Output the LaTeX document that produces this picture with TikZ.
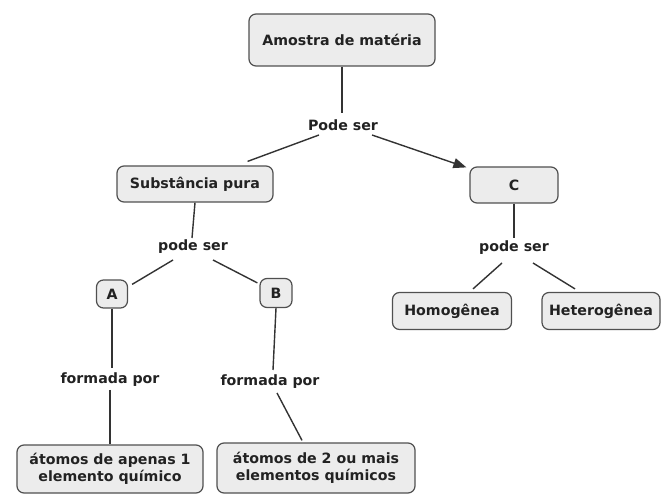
\documentclass[tikz,border=0pt]{standalone}
\usepackage{fontspec}
\setmainfont{DejaVu Sans}
\usetikzlibrary{calc,arrows.meta}
\definecolor{boxfill}{HTML}{ECECEC}
\definecolor{boxline}{HTML}{505050}
\definecolor{ink}{HTML}{222222}
\definecolor{wirec}{HTML}{333333}
\begin{document}
\begin{tikzpicture}[x=1pt,y=1pt,
  concept/.style={draw=boxline, line width=1.2pt, fill=boxfill, rounded corners=7pt,
    inner sep=0pt, align=center, text=ink, font=\fontsize{14.2}{17}\selectfont\bfseries},
  linklabel/.style={inner sep=0pt, text=ink, font=\fontsize{14.2}{17}\selectfont\bfseries},
  wire/.style={draw=wirec, line width=1.4pt}]
\useasboundingbox[fill=white] (0,0) rectangle (663,495);

% concepts
\node[concept, minimum width=186pt, minimum height=52pt] (am) at (342,455) {Amostra de matéria};
\node[concept, minimum width=156pt, minimum height=36pt] (sub) at (195,311) {Substância pura};
\node[concept, minimum width=88pt, minimum height=36pt] (c) at (514,310) {C};
\node[concept, minimum width=31pt, minimum height=28pt] (a) at (112,201) {A};
\node[concept, minimum width=32pt, minimum height=29pt] (b) at (276,202) {B};
\node[concept, minimum width=119pt, minimum height=37pt] (hom) at (452,184) {Homogênea};
\node[concept, minimum width=118pt, minimum height=37pt] (het) at (601,184) {Heterogênea};
\node[concept, minimum width=186pt, minimum height=48pt] (at1) at (110,26) {átomos de apenas 1\\elemento químico};
\node[concept, minimum width=198pt, minimum height=50pt] (at2) at (316,27) {átomos de 2 ou mais\\elementos químicos};

% linking phrases
\node[linklabel] (ps1) at (343,370) {Pode ser};
\node[linklabel] (ps2) at (193,248) {pode ser};
\node[linklabel] (ps3) at (514,247) {pode ser};
\node[linklabel] (f1) at (110,115) {formada por};
\node[linklabel] (f2) at (270,113) {formada por};

% connectors
\draw[wire] (am.south) -- ($(ps1.center)+(-1,12)$);
\draw[wire] ($(ps1.center)+(-24,-10)$) -- ($(sub.north east)+(-26,4)$);
\draw[wire, -{Triangle[length=13pt,width=10pt]}] ($(ps1.center)+(29,-10)$) -- ($(c.north west)+(-3,-1)$);

\draw[wire] (sub.south) -- ($(ps2.center)+(-1,9)$);
\draw[wire] ($(ps2.center)+(-20,-13)$) -- ($(a.north east)+(4,-5)$);
\draw[wire] ($(ps2.center)+(20,-13)$) -- ($(b.north west)+(-2,-5)$);

\draw[wire] (c.south) -- ($(ps3.center)+(0,10)$);
\draw[wire] ($(ps3.center)+(-12,-15)$) -- ($(hom.north)+(21,3)$);
\draw[wire] ($(ps3.center)+(19,-15)$) -- ($(het.north)+(-26,3)$);

\draw[wire] (a.south) -- ($(f1.center)+(2,12)$);
\draw[wire] ($(f1.center)+(0,-10)$) -- (at1.north);
\draw[wire] (b.south) -- ($(f2.center)+(3,12)$);
\draw[wire] ($(f2.center)+(7,-11)$) -- ($(at2.north)+(-14,2)$);
\end{tikzpicture}
\end{document}
